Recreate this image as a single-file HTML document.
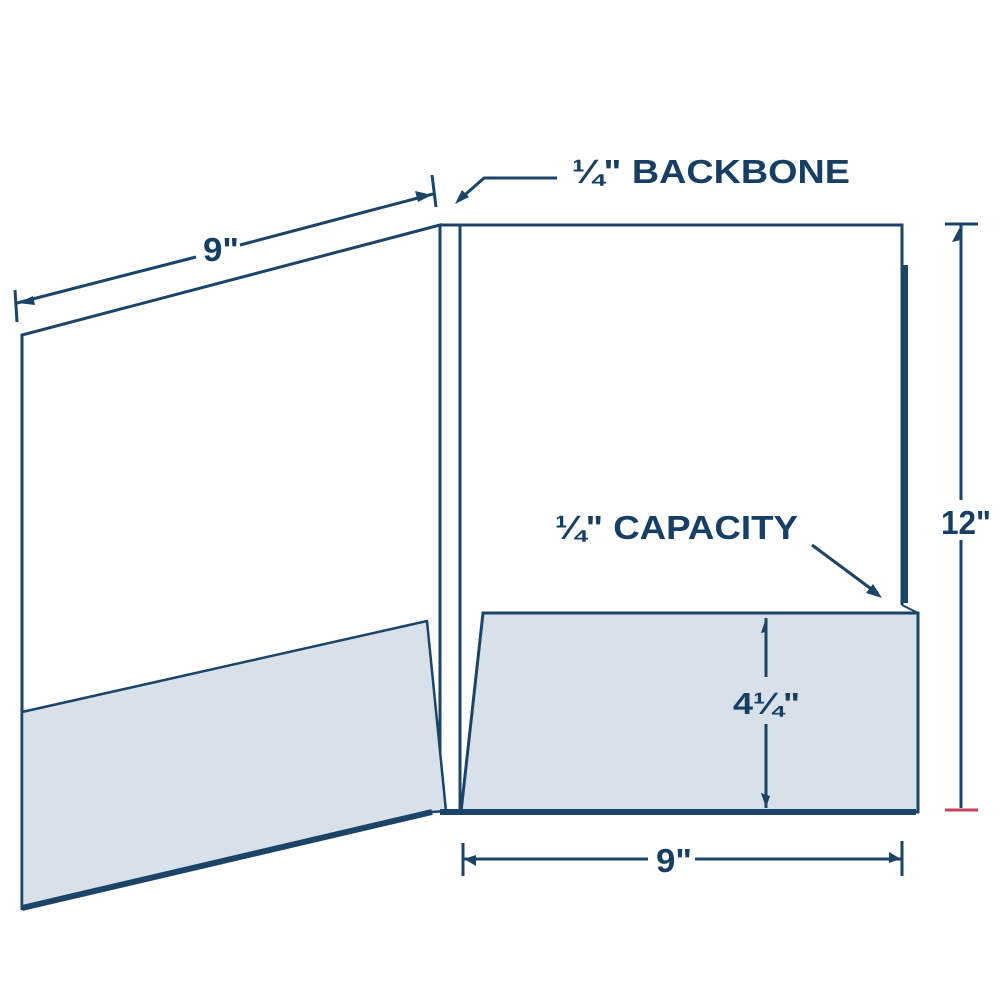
<!DOCTYPE html>
<html><head><meta charset="utf-8"><style>
html,body{margin:0;padding:0;background:#fff;}
svg{display:block;}
text{font-family:"Liberation Sans",sans-serif;font-weight:bold;fill:#173f63;}
</style></head><body>
<svg width="1000" height="1000" viewBox="0 0 1000 1000" xmlns="http://www.w3.org/2000/svg">
<g stroke="#1b4467" fill="none" stroke-width="3">
  <polyline points="22,910 22,335 440,225 440,812"/>
  <polygon points="22,712 427,621 446,811 432,812 22,908" fill="#d8e0ea" stroke-width="2.5"/>
  <line x1="22" y1="908" x2="432" y2="812" stroke-width="6"/>
  <line x1="440" y1="225" x2="460" y2="225"/>
  <line x1="460" y1="225" x2="460" y2="812"/>
  <polyline points="460,225 902,225 902,605"/>
  <line x1="905" y1="265" x2="905" y2="603" stroke-width="6"/>
  <polygon points="483,613 918,613 918,812 461,812" fill="#d8e0ea" stroke-width="3"/>
  <line x1="902" y1="605" x2="918" y2="613" stroke-width="2"/>
  <line x1="440" y1="812" x2="916" y2="812" stroke-width="6"/>
  <line x1="766" y1="618" x2="766" y2="677"/>
  <line x1="766" y1="724" x2="766" y2="808"/>
  <polygon points="766,618 761,633 766,632" fill="#1b4467" stroke="none"/>
  <polygon points="766,808 761,793 770,796" fill="#1b4467" stroke="none"/>
  <line x1="463" y1="843" x2="463" y2="876"/>
  <line x1="902" y1="841" x2="902" y2="876"/>
  <line x1="463" y1="859" x2="648" y2="859"/>
  <line x1="695" y1="859" x2="902" y2="859"/>
  <polygon points="464,859 476,855 476,866" fill="#1b4467" stroke="none"/>
  <polygon points="901,859 889,852 889,863" fill="#1b4467" stroke="none"/>
  <line x1="945" y1="224" x2="978" y2="224"/>
  <line x1="961" y1="224" x2="961" y2="500"/>
  <line x1="961" y1="540" x2="961" y2="808"/>
  <polygon points="961,225 952,242 961,240" fill="#1b4467" stroke="none"/>
  <line x1="945" y1="810" x2="978" y2="810" stroke="#c8405a"/>
  <line x1="15" y1="290" x2="17" y2="322"/>
  <line x1="432" y1="175" x2="436" y2="207"/>
  <line x1="17" y1="303" x2="196" y2="257"/>
  <line x1="240" y1="245" x2="433" y2="194"/>
  <polygon points="18,303 35,305 33,296" fill="#1b4467" stroke="none"/>
  <polygon points="432,195 415,191 418,202" fill="#1b4467" stroke="none"/>
  <polyline points="557,178 484,178 458,201"/>
  <polygon points="455,204 462,190 469,197" fill="#1b4467" stroke="none"/>
  <line x1="812" y1="545" x2="878" y2="594"/>
  <polygon points="882,598 866,593 873,584" fill="#1b4467" stroke="none"/>
</g>
<text x="572" y="183" font-size="33" textLength="278" lengthAdjust="spacingAndGlyphs">¼" BACKBONE</text>
<text x="555" y="539" font-size="33" textLength="243" lengthAdjust="spacingAndGlyphs">¼" CAPACITY</text>
<text x="941" y="534" font-size="33" textLength="50" lengthAdjust="spacingAndGlyphs">12"</text>
<text x="733" y="714" font-size="31" textLength="67" lengthAdjust="spacingAndGlyphs">4¼"</text>
<text x="656" y="872" font-size="33" textLength="36" lengthAdjust="spacingAndGlyphs">9"</text>
<text x="203" y="261" font-size="33" textLength="36" lengthAdjust="spacingAndGlyphs">9"</text>
</svg>
</body></html>
